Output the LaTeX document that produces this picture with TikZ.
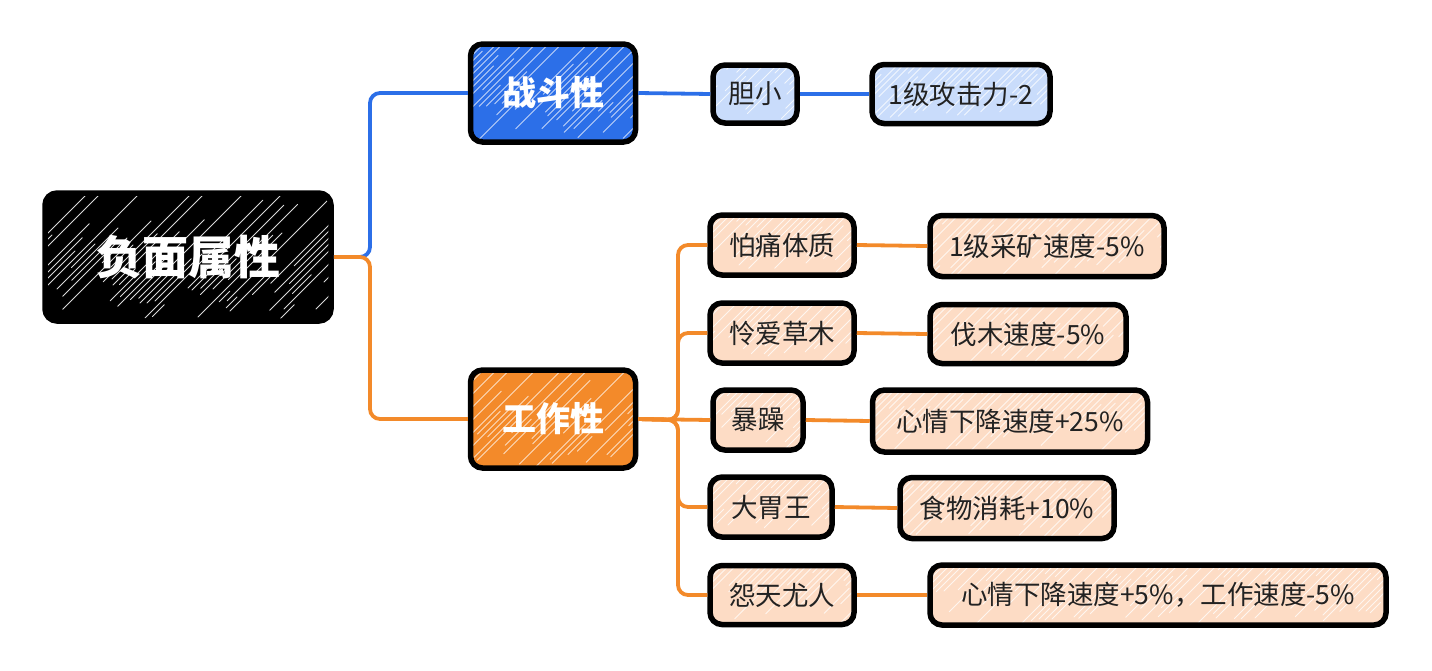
\documentclass[tikz,border=0pt]{standalone}
\usepackage{fontspec}
\setmainfont{Noto Sans CJK SC}
\usetikzlibrary{calc}
\definecolor{cblue}{HTML}{2C6FE8}
\definecolor{corange}{HTML}{F38A2A}
\definecolor{lblue}{HTML}{C9DCFB}
\definecolor{lorange}{HTML}{FDDCC5}
\definecolor{ink}{HTML}{222222}
\pgfmathsetseed{4711}
\tikzset{
  hatch/.style={path picture={
    \foreach \i in {-150,-137,...,480}{
      \pgfmathsetmacro\sa{rnd*40}
      \pgfmathsetmacro\sl{30+rnd*110}
      \draw[white, opacity=#1, line width=1pt, line cap=round]
        ($(path picture bounding box.south west)+(\i pt+\sa pt,\sa pt)$) -- ++(\sl pt,\sl pt);
      \pgfmathsetmacro\sb{rnd*60}
      \pgfmathsetmacro\sm{10+rnd*40}
      \draw[white, opacity=#1, line width=0.8pt, line cap=round]
        ($(path picture bounding box.south west)+(\i pt+6pt+\sb pt,\sb pt)$) -- ++(\sm pt,\sm pt);
    }
  }},
  box/.style={draw=black, line width=5.5pt, rounded corners=12pt, inner sep=0pt, align=center},
  rootbox/.style={box, fill=black, text=white, hatch=0.85, font=\bfseries\fontsize{46}{50}\selectfont},
  midblue/.style={box, fill=cblue, text=white, hatch=0.7, font=\bfseries\fontsize{34}{38}\selectfont},
  midorange/.style={box, fill=corange, text=white, hatch=0.7, font=\bfseries\fontsize{34}{38}\selectfont},
  leafblue/.style={box, fill=lblue, text=ink, hatch=0.75, font=\fontsize{26.5}{30}\selectfont},
  leaforange/.style={box, fill=lorange, text=ink, hatch=0.75, font=\fontsize{26.5}{30}\selectfont},
  bl/.style={draw=cblue, line width=3.8pt, rounded corners=10pt},
  ol/.style={draw=corange, line width=3.8pt, rounded corners=10pt},
}
\begin{document}
\begin{tikzpicture}[x=1pt,y=-1pt]
\useasboundingbox (0,0) rectangle (1432,670);
% junctions
\coordinate (j1) at (370,257);
\coordinate (j2) at (678,420);
% nodes
\node[rootbox, minimum width=286pt, minimum height=128pt] (root) at (188,257) {负面属性};
\node[midblue, minimum width=165pt, minimum height=98pt] (zd) at (553,93) {战斗性};
\node[midorange, minimum width=165pt, minimum height=98pt] (gz) at (553,419) {工作性};
\node[leafblue, minimum width=84pt, minimum height=58pt] (dx) at (755,94) {胆小};
\node[leafblue, minimum width=178pt, minimum height=59pt] (gj) at (961,94) {1级攻击力-2};
\node[leaforange, minimum width=144pt, minimum height=60pt] (c1) at (782,245) {怕痛体质};
\node[leaforange, minimum width=234pt, minimum height=61pt] (g1) at (1047,246) {1级采矿速度-5\%};
\node[leaforange, minimum width=144pt, minimum height=60pt] (c2) at (782,333) {怜爱草木};
\node[leaforange, minimum width=196pt, minimum height=59pt] (g2) at (1028,334) {伐木速度-5\%};
\node[leaforange, minimum width=90pt, minimum height=60pt] (c3) at (758,420) {暴躁};
\node[leaforange, minimum width=275pt, minimum height=62pt] (g3) at (1010,421) {心情下降速度+25\%};
\node[leaforange, minimum width=122pt, minimum height=60pt] (c4) at (771,507) {大胃王};
\node[leaforange, minimum width=214pt, minimum height=61pt] (g4) at (1007,508) {食物消耗+10\%};
\node[leaforange, minimum width=144pt, minimum height=59pt] (c5) at (782,595) {怨天尤人};
\node[leaforange, minimum width=456pt, minimum height=60pt] (g5) at (1158,595) {心情下降速度+5\%，工作速度-5\%};
% connectors
\path[bl] (root.east) -- (j1) |- (zd.west);
\path[ol] (root.east) -- (j1) |- (gz.west);
\path[bl] (zd.east) -- (dx.west);
\path[bl] (dx.east) -- (gj.west);
\path[ol] (gz.east) -- (j2) |- (c1.west);
\path[ol] (gz.east) -- (j2) |- (c2.west);
\path[ol] (gz.east) -- (c3.west);
\path[ol] (gz.east) -- (j2) |- (c4.west);
\path[ol] (gz.east) -- (j2) |- (c5.west);
\path[ol] (c1.east) -- (g1.west);
\path[ol] (c2.east) -- (g2.west);
\path[ol] (c3.east) -- (g3.west);
\path[ol] (c4.east) -- (g4.west);
\path[ol] (c5.east) -- (g5.west);
\end{tikzpicture}
\end{document}
